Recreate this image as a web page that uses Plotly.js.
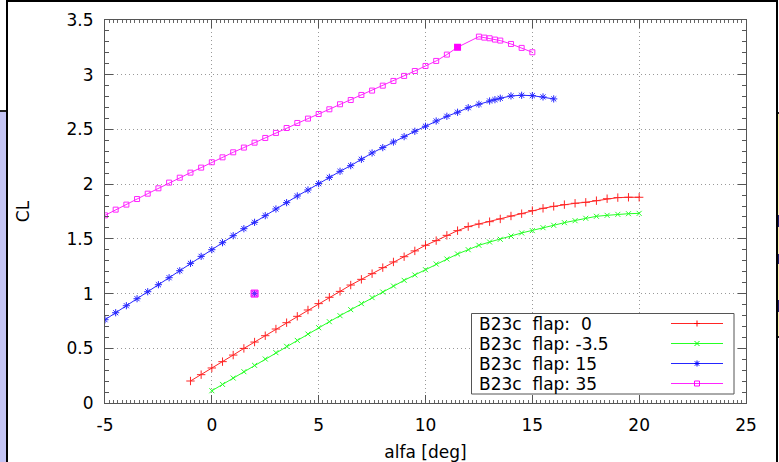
<!DOCTYPE html>
<html>
<head>
<meta charset="utf-8">
<script src="https://cdn.plot.ly/plotly-3.0.1.min.js"></script>
<style>
  html, body { margin:0; padding:0; background:#fff; }
  #chart { position:absolute; left:0; top:0; width:779px; height:462px; }
  .fr { position:absolute; pointer-events:none; }
</style>
</head>
<body>
<div id="chart"></div>
<!-- window frame remnants around the screenshot -->
<div class="fr" style="left:0;top:112px;width:6px;height:350px;background:#c4c4f4"></div>
<div class="fr" style="left:0;top:110px;width:7px;height:2px;background:#222"></div>
<div class="fr" style="left:6px;top:0;width:2px;height:462px;background:#000"></div>
<div class="fr" style="left:7px;top:0;width:771px;height:2px;background:#000"></div>
<div class="fr" style="left:776px;top:0;width:2px;height:462px;background:#000"></div>
<div class="fr" style="left:778px;top:113px;width:1px;height:224px;background:#f4f0a8"></div>
<div class="fr" style="left:778px;top:112px;width:1px;height:2px;background:#222"></div>
<div class="fr" style="left:778px;top:336px;width:1px;height:2px;background:#222"></div>
<div class="fr" style="left:778px;top:215px;width:1px;height:12px;background:#1a1a6a"></div>
<div class="fr" style="left:778px;top:254px;width:1px;height:10px;background:#1a1a6a"></div>
<div class="fr" style="left:778px;top:300px;width:1px;height:12px;background:#1a1a6a"></div>
<script>
// ---- data ----
const alphaFlap0 = [-1,-0.5,0,0.5,1,1.5,2,2.5,3,3.5,4,4.5,5,5.5,6,6.5,7,7.5,8,8.5,9,9.5,10,10.5,11,11.5,12,12.5,13,13.5,14,14.5,15,15.5,16,16.5,17,17.5,18,18.5,19,19.5,20];
const clFlap0 = [0.201,0.259,0.320,0.378,0.438,0.499,0.557,0.615,0.676,0.734,0.792,0.850,0.908,0.966,1.020,1.078,1.130,1.182,1.237,1.289,1.337,1.390,1.441,1.484,1.532,1.575,1.612,1.636,1.657,1.682,1.709,1.730,1.758,1.779,1.797,1.813,1.825,1.834,1.849,1.867,1.877,1.880,1.880];

const alphaFlapM35 = [0,0.5,1,1.5,2,2.5,3,3.5,4,4.5,5,5.5,6,6.5,7,7.5,8,8.5,9,9.5,10,10.5,11,11.5,12,12.5,13,13.5,14,14.5,15,15.5,16,16.5,17,17.5,18,18.5,19,19.5,20];
const clFlapM35 = [0.112,0.170,0.228,0.286,0.344,0.402,0.460,0.518,0.572,0.630,0.688,0.743,0.798,0.853,0.908,0.963,1.014,1.069,1.121,1.170,1.218,1.270,1.316,1.362,1.401,1.441,1.471,1.496,1.526,1.554,1.575,1.602,1.624,1.648,1.666,1.688,1.706,1.715,1.724,1.730,1.733];

const alphaFlap15 = [-5,-4.5,-4,-3.5,-3,-2.5,-2,-1.5,-1,-0.5,0,0.5,1,1.5,2,2.5,3,3.5,4,4.5,5,5.5,6,6.5,7,7.5,8,8.5,9,9.5,10,10.5,11,11.5,12,12.5,13,13.25,13.5,14,14.5,15,15.5,16];
const clFlap15 = [0.761,0.825,0.889,0.953,1.017,1.081,1.145,1.209,1.276,1.340,1.401,1.465,1.529,1.593,1.651,1.712,1.773,1.831,1.892,1.947,2.005,2.062,2.117,2.169,2.227,2.285,2.334,2.385,2.434,2.483,2.529,2.577,2.620,2.657,2.699,2.730,2.760,2.772,2.785,2.806,2.812,2.809,2.797,2.779];

const alphaFlap35 = [-5,-4.5,-4,-3.5,-3,-2.5,-2,-1.5,-1,-0.5,0,0.5,1,1.5,2,2.5,3,3.5,4,4.5,5,5.5,6,6.5,7,7.5,8,8.5,9,9.5,10,10.5,11,11.5,12.5,12.75,13,13.25,13.5,14,14.5,15];
const clFlap35 = [1.715,1.767,1.813,1.864,1.913,1.962,2.014,2.059,2.105,2.151,2.200,2.245,2.291,2.334,2.379,2.422,2.468,2.513,2.559,2.599,2.641,2.684,2.730,2.769,2.815,2.855,2.900,2.943,2.989,3.034,3.080,3.126,3.184,3.251,3.348,3.339,3.333,3.321,3.312,3.281,3.245,3.205];

// isolated points
const alphaLone = [2];
const clLone = [1.0];
const alphaFlap35Dense = [11.5];
const clFlap35Dense = [3.251];

const seriesNames = ['B23c\u00a0 flap:\u00a0\u00a00', 'B23c\u00a0 flap: -3.5', 'B23c\u00a0 flap: 15', 'B23c\u00a0 flap: 35'];
const seriesColors = ['#ff0000', '#00ff00', '#0000ff', '#ff00ff'];
const xTicks = [-5,0,5,10,15,20,25];
const yTicks = [0,0.5,1,1.5,2,2.5,3,3.5];

const FONT = 'DejaVu Sans, sans-serif';
const FS = 17;

function tr(x, y, i, sym, size) {
  return {
    x: x, y: y, type: 'scatter', mode: 'lines+markers', name: seriesNames[i],
    line: {color: seriesColors[i], width: 1},
    opacity: 0.85,
    marker: {symbol: sym, size: size, color: seriesColors[i], line: {color: seriesColors[i], width: 1}},
    showlegend: false, hoverinfo: 'skip'
  };
}

const data = [
  tr(alphaFlap0, clFlap0, 0, 'cross-thin-open', 6),
  tr(alphaFlapM35, clFlapM35, 1, 'x-thin-open', 5),
  tr(alphaFlap15, clFlap15, 2, 'asterisk-open', 6),
  tr(alphaFlap35, clFlap35, 3, 'square-open', 5),
  {x: alphaFlap35Dense, y: clFlap35Dense, type:'scatter', mode:'markers', showlegend:false, hoverinfo:'skip',
   marker:{symbol:'square', size:7, color:seriesColors[3]}},
  {x: alphaLone, y: clLone, type:'scatter', mode:'markers', showlegend:false, hoverinfo:'skip',
   marker:{symbol:'square', size:7, color:'#ff66ff', line:{color:seriesColors[3], width:1}}},
  {x: alphaLone, y: clLone, type:'scatter', mode:'markers', showlegend:false, hoverinfo:'skip',
   marker:{symbol:'asterisk-open', size:5, color:'#6030ff', line:{color:'#5030e0', width:1}}}
];

// plot area in px: x 105..746, y 20..403
const L = 105, R = 746, T = 20, B = 403;
const px2x = p => (p - L) / (R - L);
const py2y = p => (B - p) / (B - T);

const rows = [323.5, 343.5, 363.5, 383.5];
const shapes = [
  {type:'rect', xref:'paper', yref:'paper', x0:px2x(471.5), x1:px2x(734), y0:py2y(394), y1:py2y(313.5),
   line:{color:'#555', width:1}, fillcolor:'#fff', layer:'above'}
];
const annotations = [];
const markerPaths = [
  'M-3,0 H3 M0,-3 V3',
  'M-2.5,-2.5 L2.5,2.5 M-2.5,2.5 L2.5,-2.5',
  'M-3,0 H3 M0,-3 V3 M-2.2,-2.2 L2.2,2.2 M-2.2,2.2 L2.2,-2.2',
  'M-2.5,-2.5 H2.5 V2.5 H-2.5 Z'
];
rows.forEach((ry, i) => {
  const y = py2y(ry);
  annotations.push({xref:'paper', yref:'paper', x:px2x(477), y:y, xanchor:'left', yanchor:'middle',
    text: seriesNames[i], showarrow:false, font:{family:FONT, size:FS, color:'#000'}});
  shapes.push({type:'line', xref:'paper', yref:'paper', x0:px2x(671), x1:px2x(723), y0:y, y1:y,
    line:{color:seriesColors[i], width:1}, opacity:0.85, layer:'above'});
  shapes.push({type:'path', xref:'paper', yref:'paper', xsizemode:'pixel', ysizemode:'pixel',
    xanchor:px2x(697), yanchor:y, path: markerPaths[i],
    line:{color:seriesColors[i], width:1}, layer:'above'});
});

const axisCommon = {
  showline: true, linecolor: '#555', linewidth: 1, mirror: 'ticks',
  ticks: 'inside', ticklen: 8, tickcolor: '#555', tickwidth: 1,
  showgrid: true, gridcolor: '#999', gridwidth: 1, griddash: '1px,3px',
  zeroline: false, tickfont: {family: FONT, size: FS, color: '#000'},
  ticklabelstandoff: 7
};

const layout = {
  width: 779, height: 462,
  margin: {l: L, r: 779 - R, t: T, b: 462 - B, pad: 0},
  paper_bgcolor: '#fff', plot_bgcolor: '#fff',
  showlegend: false,
  xaxis: Object.assign({}, axisCommon, {
    range: [-5, 25], tickmode: 'array', tickvals: xTicks, ticktext: xTicks.map(String),
    minor: {dtick: 0.2, ticks: 'inside', ticklen: 3, tickcolor: '#666', showgrid: false},
    title: {text: 'alfa [deg]', font: {family: FONT, size: FS, color: '#000'}, standoff: 12},
    automargin: false
  }),
  yaxis: Object.assign({}, axisCommon, {
    range: [0, 3.5], tickmode: 'array', tickvals: yTicks, ticktext: yTicks.map(String),
    minor: {dtick: 0.1, ticks: 'inside', ticklen: 4, tickcolor: '#555', showgrid: false},
    title: {text: 'CL', font: {family: FONT, size: FS, color: '#000'}, standoff: 32},
    automargin: false
  }),
  shapes: shapes,
  annotations: annotations
};

Plotly.newPlot('chart', data, layout, {displayModeBar: false, staticPlot: true});
</script>
</body>
</html>
